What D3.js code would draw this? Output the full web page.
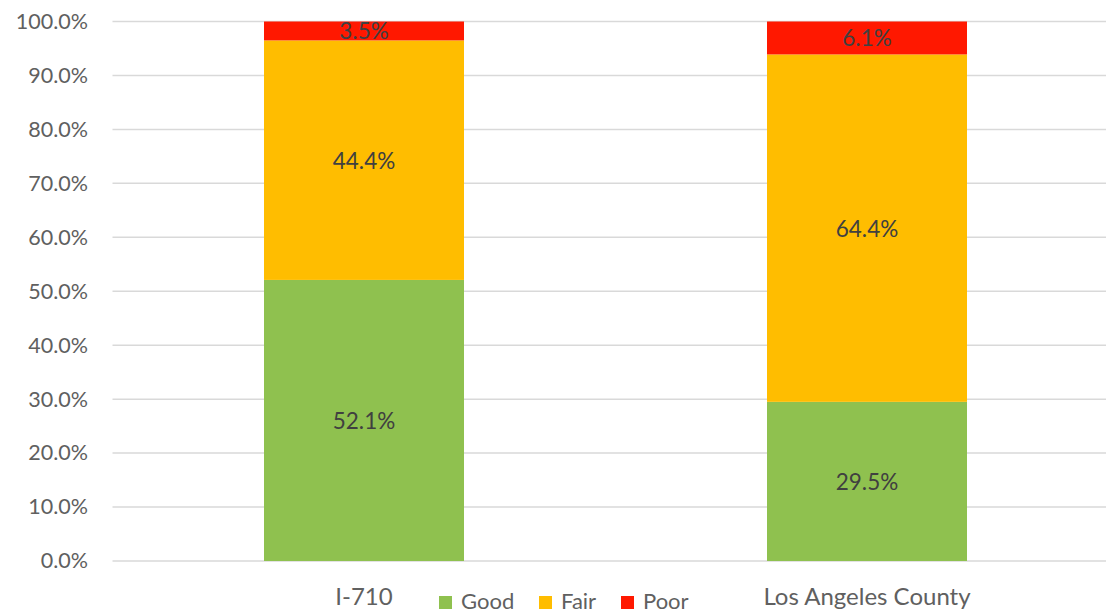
<!DOCTYPE html>
<html>
<head>
<meta charset="utf-8">
<script src="https://cdn.jsdelivr.net/npm/d3@7/dist/d3.min.js"></script>
<style>
  html, body { margin: 0; padding: 0; background: #ffffff; }
  svg { display: block; }
  text { font-family: Lato, "Open Sans", sans-serif; }
</style>
</head>
<body>
<svg id="chart" width="1106" height="615"></svg>
<script>
// Pavement condition shares (percent of lane-miles)
const categories = ["I-710", "Los Angeles County"];
const conditions = ["Good", "Fair", "Poor"];
const good = [52.1, 29.5];
const fair = [44.4, 64.4];
const poor = [3.5, 6.1];
const yTicks = [0, 10, 20, 30, 40, 50, 60, 70, 80, 90, 100];
const colors = { Good: "#8fc14f", Fair: "#ffbd00", Poor: "#ff1800" };

const rows = categories.map((c, i) => ({ category: c, Good: good[i], Fair: fair[i], Poor: poor[i] }));
const stacked = d3.stack().keys(conditions)(rows);

const svg = d3.select("#chart");
const plot = { left: 112.5, right: 1118.5, top: 21.5, bottom: 561 };

const x = d3.scaleBand()
  .domain(categories)
  .range([plot.left, plot.right])
  .paddingInner(0.6024)
  .paddingOuter(0.3012);

const y = d3.scaleLinear().domain([0, 100]).range([plot.bottom, plot.top]);

// Horizontal gridlines
svg.append("g")
  .selectAll("line")
  .data(yTicks)
  .join("line")
  .attr("x1", plot.left)
  .attr("x2", plot.right)
  .attr("y1", d => y(d))
  .attr("y2", d => y(d))
  .attr("stroke", "#d9d9d9")
  .attr("stroke-width", 1.5);

// Y axis labels
const yAxis = d3.axisLeft(y)
  .tickValues(yTicks)
  .tickFormat(d => d3.format(".1f")(d) + "%")
  .tickSize(0)
  .tickPadding(0);
const yg = svg.append("g").attr("transform", "translate(88,0)").call(yAxis);
yg.select(".domain").remove();
yg.selectAll("text")
  .attr("fill", "#606060")
  .style("font-size", "21.5px")
  .style("font-family", "Lato, sans-serif");

// Stacked bars
const layers = svg.append("g")
  .selectAll("g")
  .data(stacked)
  .join("g")
  .attr("fill", d => colors[d.key]);

layers.selectAll("rect")
  .data(d => d.map(s => ({ key: d.key, s })))
  .join("rect")
  .attr("x", d => x(d.s.data.category))
  .attr("width", x.bandwidth())
  .attr("y", d => y(d.s[1]))
  .attr("height", d => y(d.s[0]) - y(d.s[1]));

// Value labels centred in each segment
layers.selectAll("text")
  .data(d => d.map(s => ({ key: d.key, s })))
  .join("text")
  .attr("x", d => x(d.s.data.category) + x.bandwidth() / 2)
  .attr("y", d => y((d.s[0] + d.s[1]) / 2))
  .attr("text-anchor", "middle")
  .attr("dominant-baseline", "central")
  .attr("fill", "#404040")
  .style("font-size", "22.5px")
  .text(d => d3.format(".1f")(d.s[1] - d.s[0]) + "%");

// Category axis labels
const xAxis = d3.axisBottom(x).tickSize(0).tickPadding(0);
const xg = svg.append("g").call(xAxis);
xg.select(".domain").remove();
xg.selectAll("text")
  .attr("fill", "#606060")
  .attr("y", 605)
  .attr("dy", 0)
  .style("font-size", "24px")
  .style("font-family", "Lato, sans-serif");

// Legend
const legend = svg.append("g").attr("transform", "translate(439,0)");
const legendX = [0, 100, 182];
const item = legend.selectAll("g")
  .data(conditions)
  .join("g")
  .attr("transform", (d, i) => `translate(${legendX[i]},0)`);
item.append("rect")
  .attr("y", 596)
  .attr("width", 13)
  .attr("height", 13)
  .attr("fill", d => colors[d]);
item.append("text")
  .attr("x", 22)
  .attr("y", 609)
  .attr("fill", "#606060")
  .style("font-size", "22px")
  .text(d => d);
</script>
</body>
</html>
